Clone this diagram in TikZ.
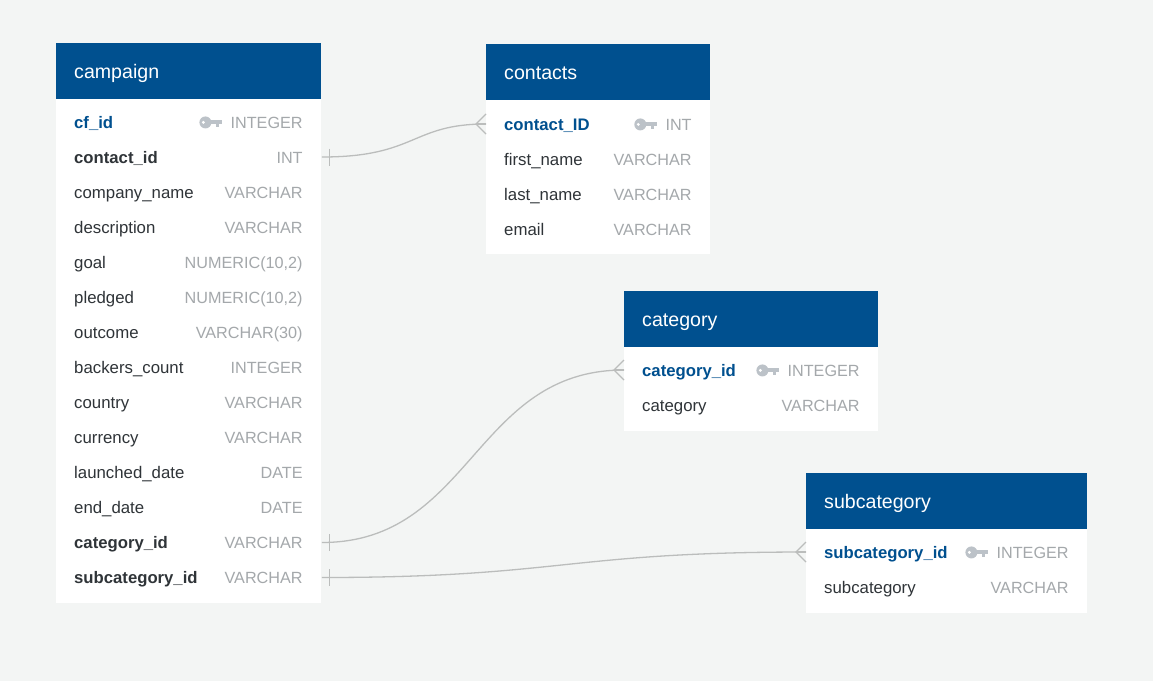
\documentclass[tikz,border=0pt]{standalone}
\usepackage{fontspec}
\setmainfont{Liberation Sans}
\usepackage{xcolor}
\usetikzlibrary{calc,positioning}

\definecolor{canvascol}{HTML}{F3F5F4}
\definecolor{headcol}{HTML}{00508F}
\definecolor{fieldcol}{HTML}{2F3438}
\definecolor{typecol}{HTML}{A4A8AB}
\definecolor{keycol}{HTML}{BCC2C8}
\definecolor{linkcol}{HTML}{BBBDBC}

\tikzset{
  tablehead/.style={fill=headcol,text=white,inner sep=0pt,anchor=north west,minimum height=56pt},
  headtitle/.style={text=white,inner sep=0pt,anchor=base west,font=\fontsize{19.6}{20}\selectfont},
  tablebody/.style={fill=white,inner sep=0pt,anchor=north west},
  rowbox/.style={inner sep=0pt,anchor=west,minimum height=35pt},
  fieldname/.style={text=fieldcol,inner sep=0pt,anchor=base west,font=\fontsize{16.8}{17}\selectfont},
  fieldfk/.style={fieldname,font=\fontsize{16.7}{17}\selectfont\bfseries},
  fieldpk/.style={fieldname,text=headcol,font=\fontsize{16.7}{17}\selectfont\bfseries},
  fieldtype/.style={text=typecol,inner sep=0pt,anchor=base east,font=\fontsize{16.2}{17}\selectfont},
  link/.style={draw=linkcol,line width=1.3pt}
}

% #1 name, #2 left, #3 top, #4 width, #5 height, #6 title
\newcommand{\dbtable}[6]{
  \node[tablebody,minimum width=#4pt,minimum height=#5pt] (#1-body) at (#2,#3) {};
  \node[tablehead,minimum width=#4pt] (#1-head) at (#2,#3) {};
  \node[headtitle] (#1-title) at ($(#1-head.west)+(18,7)$) {#6};
}
% #1 table, #2 row name, #3 centre y, #4 name style, #5 name, #6 type
\newcommand{\dbrow}[6]{
  \path let \p1=(#1-body.north west), \p2=(#1-body.north east) in
    node[rowbox,minimum width=\x2-\x1] (#2) at (\x1,-#3pt) {};
  \node[#4] (#2-name) at ($(#2.west)+(18,6)$) {#5};
  \node[fieldtype] (#2-type) at ($(#2.east)+(-19,6)$) {#6};
}
\newcommand{\keyicon}[1]{
  \fill[keycol] ($(#1-type.west)+(-25,0)$) circle (6pt);
  \fill[keycol] ($(#1-type.west)+(-24,-2.5)$) rectangle ($(#1-type.west)+(-8.5,2)$);
  \fill[keycol] ($(#1-type.west)+(-14,1)$) rectangle ($(#1-type.west)+(-11.5,4.5)$);
  \fill[white] ($(#1-type.west)+(-27,0)$) circle (1.6pt);
}
\newcommand{\onebar}[1]{
  \draw[link] ($(#1.east)+(8,-8.5)$) -- ($(#1.east)+(8,8.5)$);
}
\newcommand{\crowfoot}[1]{
  \draw[link] ($(#1.west)+(0,-10)$) -- ($(#1.west)+(-10,0)$) -- ($(#1.west)+(0,10)$);
  \draw[link] ($(#1.west)+(-10,0)$) -- (#1.west);
}

\begin{document}
\begin{tikzpicture}[x=1pt,y=-1pt]

  \fill[canvascol] (0,0) rectangle (1153,681);
  \useasboundingbox (0,0) rectangle (1153,681);

  \dbtable{campaign}{56}{43}{265}{560}{campaign}
  \dbrow{campaign}{cfid}{122}{fieldpk}{cf\_id}{INTEGER}
  \dbrow{campaign}{contactid}{157}{fieldfk}{contact\_id}{INT}
  \dbrow{campaign}{companyname}{192}{fieldname}{company\_name}{VARCHAR}
  \dbrow{campaign}{description}{227}{fieldname}{description}{VARCHAR}
  \dbrow{campaign}{goal}{262}{fieldname}{goal}{NUMERIC(10,2)}
  \dbrow{campaign}{pledged}{297}{fieldname}{pledged}{NUMERIC(10,2)}
  \dbrow{campaign}{outcome}{332}{fieldname}{outcome}{VARCHAR(30)}
  \dbrow{campaign}{backerscount}{367}{fieldname}{backers\_count}{INTEGER}
  \dbrow{campaign}{country}{402}{fieldname}{country}{VARCHAR}
  \dbrow{campaign}{currency}{437}{fieldname}{currency}{VARCHAR}
  \dbrow{campaign}{launcheddate}{472}{fieldname}{launched\_date}{DATE}
  \dbrow{campaign}{enddate}{507}{fieldname}{end\_date}{DATE}
  \dbrow{campaign}{categoryid}{542.5}{fieldfk}{category\_id}{VARCHAR}
  \dbrow{campaign}{subcategoryid}{577.5}{fieldfk}{subcategory\_id}{VARCHAR}
  \keyicon{cfid}

  \dbtable{contacts}{486}{44}{224}{210}{contacts}
  \dbrow{contacts}{contactpk}{124}{fieldpk}{contact\_ID}{INT}
  \dbrow{contacts}{firstname}{159}{fieldname}{first\_name}{VARCHAR}
  \dbrow{contacts}{lastname}{194}{fieldname}{last\_name}{VARCHAR}
  \dbrow{contacts}{email}{229}{fieldname}{email}{VARCHAR}
  \keyicon{contactpk}

  \dbtable{category}{624}{291}{254}{140}{category}
  \dbrow{category}{categorypk}{370}{fieldpk}{category\_id}{INTEGER}
  \dbrow{category}{categoryname}{405}{fieldname}{category}{VARCHAR}
  \keyicon{categorypk}

  \dbtable{subcategory}{806}{473}{281}{140}{subcategory}
  \dbrow{subcategory}{subcategorypk}{552}{fieldpk}{subcategory\_id}{INTEGER}
  \dbrow{subcategory}{subcategoryname}{587}{fieldname}{subcategory}{VARCHAR}
  \keyicon{subcategorypk}

  \draw[link] (contactid.east) .. controls ($(contactid.east)+(95,0)$) and ($(contactpk.west)+(-75,0)$) .. (contactpk.west);
  \draw[link] (categoryid.east) .. controls ($(categoryid.east)+(150,0)$) and ($(categorypk.west)+(-150,0)$) .. (categorypk.west);
  \draw[link] (subcategoryid.east) .. controls ($(subcategoryid.east)+(240,0)$) and ($(subcategorypk.west)+(-240,0)$) .. (subcategorypk.west);

  \onebar{contactid}
  \onebar{categoryid}
  \onebar{subcategoryid}
  \crowfoot{contactpk}
  \crowfoot{categorypk}
  \crowfoot{subcategorypk}

\end{tikzpicture}
\end{document}
